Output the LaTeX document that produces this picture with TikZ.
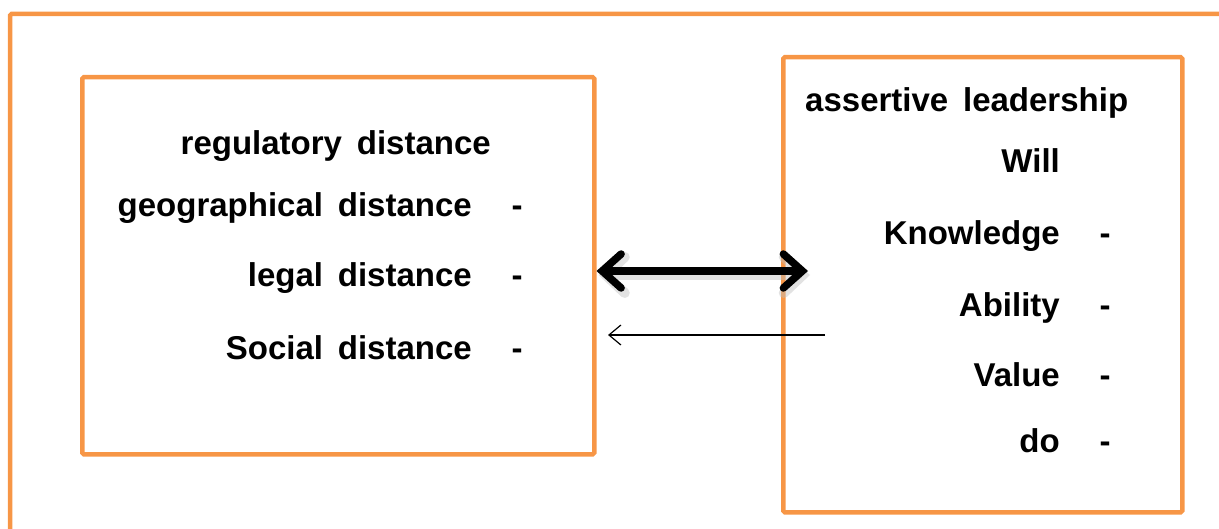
\documentclass[tikz,border=0pt]{standalone}
\usepackage{fontspec}
\setmainfont{Liberation Sans}
\usetikzlibrary{arrows.meta,positioning}

\definecolor{boxorange}{RGB}{247,150,70}
\newcommand\labelfont{\fontsize{33}{38}\selectfont\bfseries\spaceskip 0.45em plus 0.1em\relax}

\begin{document}
\begin{tikzpicture}[x=1pt,y=-1pt,
  every node/.style={font=\labelfont,inner sep=0pt},
  frame/.style={draw=boxorange,line width=4.5pt,rounded corners=1.5pt},
  entry/.style={anchor=base east},
  bullet/.style={anchor=base}]
  \useasboundingbox (0,0) rectangle (1219,529);
  % outer frame, open towards the right and the bottom
  \draw[boxorange,line width=4.5pt,rounded corners=1.5pt] (10,540) -- (10,14) -- (1230,14);

  % the two boxes
  \node[frame,anchor=north west,minimum width=512pt,minimum height=377pt] (distbox) at (80,75) {};
  \node[frame,anchor=north west,minimum width=399pt,minimum height=455pt] (leadbox) at (781,55) {};

  % left box
  \node[entry] (regulatory) at (491,155) {regulatory distance};
  \foreach \ypos/\entry [count=\i] in {217/geographical distance,287/legal distance,360/Social distance}{
    \node[entry] (dist\i) at (472,\ypos) {\entry};
    \node[bullet] (distdash\i) at (517,\ypos) {-};
  }

  % right box
  \node[anchor=base west] (assertive) at (805,112) {assertive leadership};
  \node[entry] (will) at (1060,173) {Will};
  \foreach \ypos/\entry [count=\i] in {245/Knowledge,317/Ability,387/Value,453/do}{
    \node[entry] (lead\i) at (1060,\ypos) {\entry};
    \node[bullet] (leaddash\i) at (1105,\ypos) {-};
  }

  % connectors between the boxes
  \coordinate (mutualend) at (808,271);
  \coordinate (backstart) at (825,335);
  \coordinate (backend) at (608,335);
  \draw[black!25,line width=10pt,line cap=round,opacity=0.45,
    {Straight Barb[length=19pt,width=36pt,line cap=round]}-{Straight Barb[length=19pt,width=36pt,line cap=round]}]
    ([xshift=2pt,yshift=-4pt]distbox.east |- mutualend) -- ([xshift=2pt,yshift=-4pt]mutualend);
  \draw[line width=7.5pt,line cap=round,
    {Straight Barb[length=19pt,width=34pt,line cap=round]}-{Straight Barb[length=19pt,width=34pt,line cap=round]}]
    (distbox.east |- mutualend) -- (mutualend);
  \draw[line width=1.2pt,-{Straight Barb[length=12pt,width=20pt]}] (backstart) -- (backend);
\end{tikzpicture}
\end{document}
